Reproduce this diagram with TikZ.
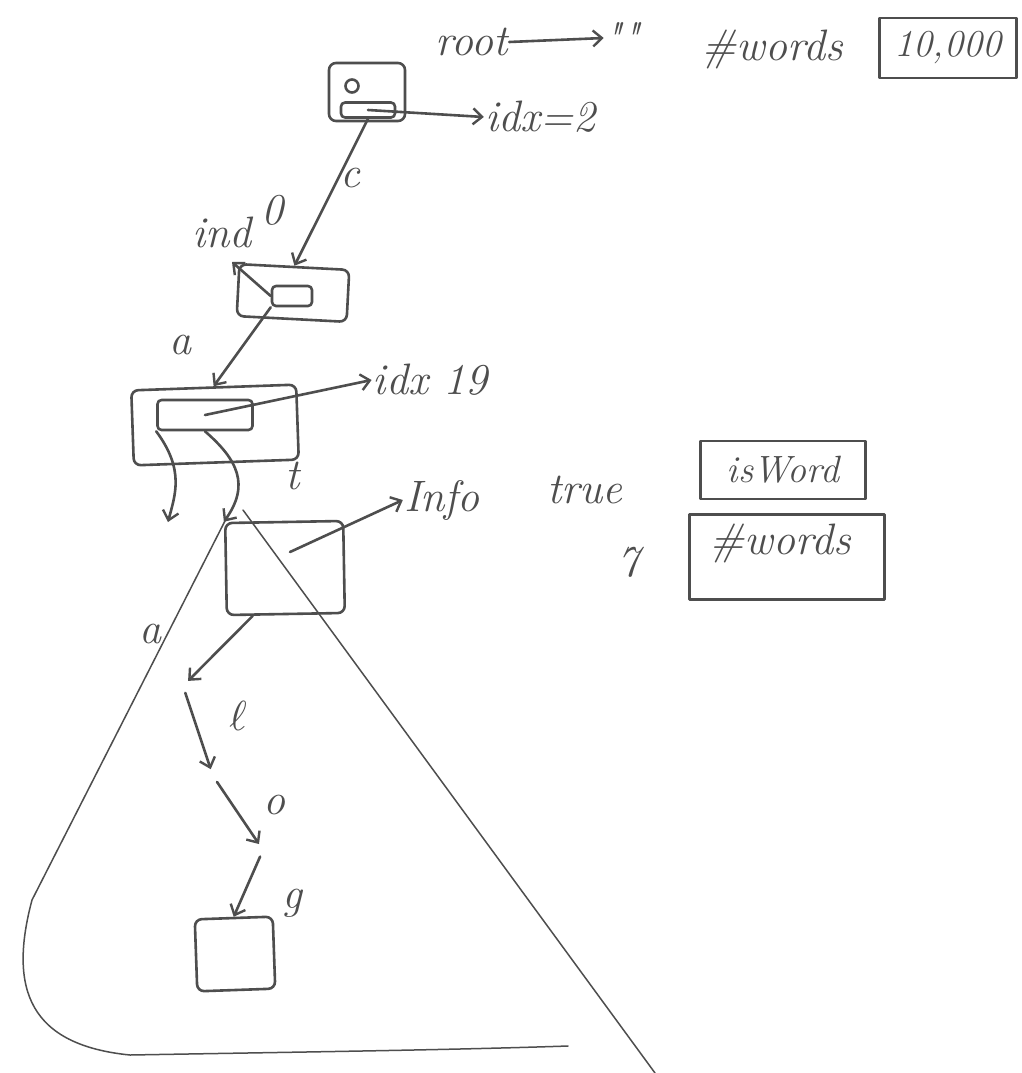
\documentclass[tikz,border=0pt]{standalone}
\usetikzlibrary{arrows.meta,calc}
\definecolor{ink}{RGB}{78,78,78}
\begin{document}
\begin{tikzpicture}[x=1pt,y=-1pt,
  pen/.style={draw=ink, line width=2.6pt, line cap=round, line join=round},
  fine/.style={draw=ink, line width=1.5pt, line cap=round, line join=round},
  arr/.style={pen, -{Straight Barb[length=9pt,width=16pt,line width=2.4pt]}},
  tnode/.style={pen, rectangle, rounded corners=7pt, inner sep=0pt},
  cell/.style={pen, rectangle, rounded corners=4pt, inner sep=0pt},
  hw/.style={text=ink, font=\fontsize{44}{48}\selectfont\itshape, inner sep=1pt},
  valbox/.style={pen, rectangle, inner sep=2pt, text=ink, font=\fontsize{38}{42}\selectfont\itshape},
  hook/.style={circle, inner sep=0pt, minimum size=14pt},
]
\fill[white] (0,0) rectangle (1021,1073);
\useasboundingbox (0,0) rectangle (1021,1073);

% ---- the subtree under "ta", drawn as a big triangle
\draw[fine] (227,517) -- (32,900) .. controls (8,990) and (30,1045) .. (130,1055)
            .. controls (300,1052) and (450,1050) .. (568,1046);
\draw[fine] (243,510) -- (655,1073);

% ---- root node
\node[tnode, minimum width=76pt, minimum height=58pt] (root) at (367,92) {};
\node[pen, circle, inner sep=0pt, minimum size=13pt] (rootc) at (352,86) {};
\node[cell, minimum width=54pt, minimum height=15pt] (rootcell) at (368,110) {};
\node[hw] (rootlbl) at (472,42) {root};
\node[hw] (emptystr) at (622,38) {\textquotedbl\textquotedbl};
\draw[arr] (rootlbl.east) -- (emptystr.west);
\node[hw] (nwlbl) at (772,50) {\#words};
\node[valbox, minimum width=137pt, minimum height=60pt] (nwval) at (948,48) {10,000};
\node[hw] (idx2) at (540,117) {idx=2};
\draw[arr] (rootcell.center) -- (idx2.west);

% ---- node reached by "c"
\node[tnode, minimum width=110pt, minimum height=52pt, rotate=-3] (n2) at (293,293) {};
\node[cell, minimum width=40pt, minimum height=20pt] (n2cell) at (292,296) {};
\draw[arr] (rootcell.south) -- (n2.north);
\node[hw] (lc) at (350,178) {c};
\coordinate (p0) at (232,262);
\draw[arr] (n2cell.west) -- (p0);
\node[hw] (ind) at (222,232) {ind};
\node[hw] (indnum) at (272,210) {0};

% ---- node reached by "ca"
\node[tnode, minimum width=165pt, minimum height=75pt, rotate=2] (n3) at (215,425) {};
\node[cell, minimum width=95pt, minimum height=30pt] (n3cell) at (205,415) {};
\draw[arr] (n2cell.south west) -- (n3.north);
\node[hw] (la1) at (180,345) {a};
\node[hw] (idx19) at (430,380) {idx 19};
\draw[arr] (n3cell.center) -- (idx19.west);
\coordinate (sib) at (168,522);
\draw[arr] (n3cell.south west) .. controls (185,470) and (175,495) .. (sib);

% ---- node reached by "cat"
\node[tnode, minimum width=118pt, minimum height=92pt, rotate=1] (n4) at (285,568) {};
\draw[arr] (n3cell.south) .. controls (238,460) and (250,485) .. (n4.north west);
\node[hw] (lt) at (293,476) {t};
\coordinate (n4p) at (290,552);
\node[hw] (info) at (442,500) {Info};
\draw[arr] (n4p) -- (info.west);
\node[hw] (truelbl) at (585,490) {true};
\node[valbox, minimum width=165pt, minimum height=58pt] (isword) at (783,470) {isWord};
\node[hw] (seven) at (628,562) {7};
\node[pen, rectangle, minimum width=195pt, minimum height=85pt] (wbox) at (787,557) {};
\node[hw] (wtext) at (780,543) {\#words};

% ---- the chain "a l o g" down to the leaf
\node[hook] (c5) at (183,686) {};
\node[hook] (c6) at (213,776) {};
\node[hook] (c7) at (263,850) {};
\node[tnode, minimum width=78pt, minimum height=72pt, rotate=2] (n8) at (235,954) {};
\draw[arr] (n4.235) -- (c5);
\draw[arr] (c5) -- (c6);
\draw[arr] (c6) -- (c7);
\draw[arr] (c7) -- (n8.north);
\node[hw] (la2) at (150,634) {a};
\node[text=ink, font=\normalsize, scale=4.2] (ll) at (238,716) {$\ell$};
\node[hw] (lo) at (274,805) {o};
\node[hw] (lg) at (292,903) {g};
\end{tikzpicture}
\end{document}
